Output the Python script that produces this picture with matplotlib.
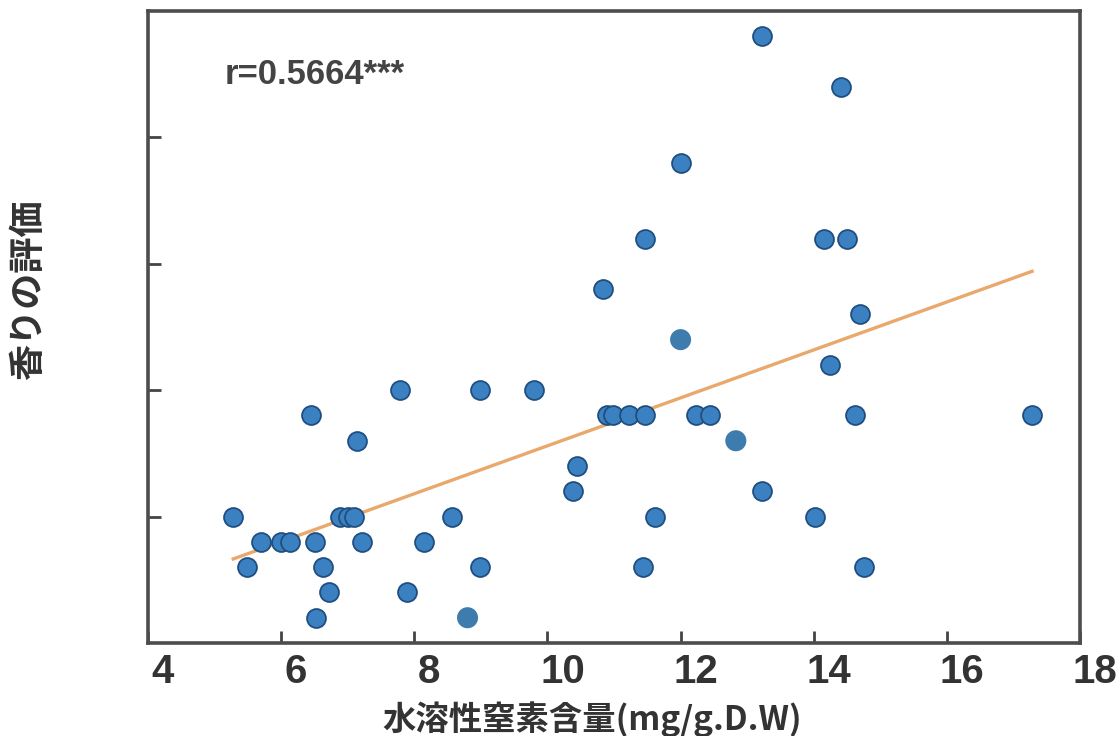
import numpy as np
import matplotlib
matplotlib.use('Agg')
from matplotlib import pyplot as plt
from matplotlib import transforms

# water-soluble nitrogen (mg/g.D.W) vs aroma score (scale without labels)
nitrogen = [5.28, 5.49, 5.70, 6.00, 6.14, 6.45, 6.51, 6.63, 6.72, 6.53,
            7.14, 6.89, 7.01, 7.10, 7.22, 7.79, 7.89, 8.15, 8.56, 8.99,
            8.99, 9.80, 10.45, 10.39, 10.84, 10.89, 10.99, 11.22, 11.47, 11.46,
            11.61, 11.44, 12.00, 12.23, 12.44, 13.23, 13.23, 14.02, 14.15, 14.24,
            14.41, 14.50, 14.62, 14.69, 14.75, 17.28]
aroma = [1.0, 0.6, 0.8, 0.8, 0.8, 1.8, 0.8, 0.6, 0.4, 0.2,
         1.6, 1.0, 1.0, 1.0, 0.8, 2.0, 0.4, 0.8, 1.0, 2.0,
         0.6, 2.0, 1.4, 1.2, 2.8, 1.8, 1.8, 1.8, 1.8, 3.2,
         1.0, 0.6, 3.8, 1.8, 1.8, 4.8, 1.2, 1.0, 3.2, 2.2,
         4.4, 3.2, 1.8, 2.6, 0.6, 1.8]
# points drawn without outline in the original
nitrogen_b = [8.80, 12.00, 12.83]
aroma_b = [0.2, 2.4, 1.6]

r_text = 'r=0.5664***'
x_ticks = [4, 6, 8, 10, 12, 14, 16, 18]
y_ticks = [1, 2, 3, 4]

fig = plt.figure(figsize=(11.19, 7.36), dpi=100)
ax = fig.add_axes([148/1119, 1-643/736, (1080-148)/1119, (643-11)/736])

all_x = np.array(nitrogen + nitrogen_b)
all_y = np.array(aroma + aroma_b)
k, b = np.polyfit(all_x, all_y, 1)
lx = np.array([all_x.min(), all_x.max()])
ax.plot(lx, k*lx + b, color='#e9a86c', lw=2.4, zorder=2)

ax.scatter(nitrogen, aroma, s=185, color='#3b80c0', edgecolors='#1f4f80',
           linewidths=1.3, zorder=3)
ax.scatter(nitrogen_b, aroma_b, s=230, color='#3f7cae', edgecolors='none', zorder=3)

ax.set_xlim(4, 18)
ax.set_ylim(0, 5)
ax.set_xticks(x_ticks)
ax.set_yticks(y_ticks)
ax.set_yticklabels([])
ax.tick_params(axis='both', direction='in', length=9, width=2, color='#444444',
               top=False, right=False)
ax.tick_params(axis='x', pad=7, labelsize=29, labelcolor='#333333')
for lab in ax.get_xticklabels():
    lab.set_family(['Liberation Sans', 'DejaVu Sans'])
    lab.set_weight('bold')
    lab.set_transform(lab.get_transform() +
                      transforms.ScaledTranslation(0.15, 0, fig.dpi_scale_trans))
for s in ax.spines.values():
    s.set_linewidth(2.6)
    s.set_color('#4d4d4d')

ax.text((225-148)/932, (643-75)/632, r_text, transform=ax.transAxes,
        fontsize=25, fontweight='bold', color='#444444', va='center',
        family=['Liberation Sans', 'DejaVu Sans'])

ax.set_xlabel('水溶性窒素含量(mg/g.D.W)', fontsize=24, fontweight='bold',
              color='#333333', family=['Noto Sans CJK JP', 'DejaVu Sans'])
ax.xaxis.set_label_coords((592-148)/932, -(719-643)/632)
ax.xaxis.label.set_va('center')
ax.set_ylabel('香りの評価', fontsize=26, fontweight='bold', color='#333333',
              family=['Noto Sans CJK JP', 'DejaVu Sans'])
ax.yaxis.set_label_coords((29-148)/932, (643-290)/632)
ax.yaxis.label.set_va('center')

fig.savefig('out.png', dpi=100)
